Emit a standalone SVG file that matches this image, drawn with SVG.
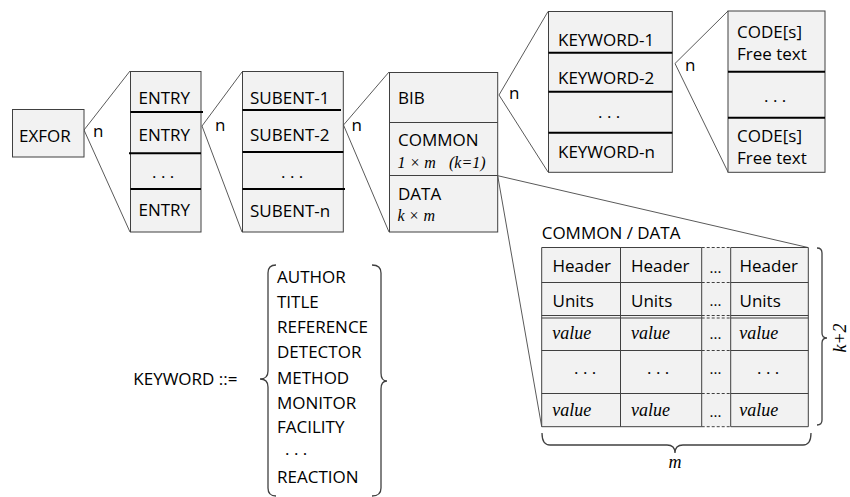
<svg xmlns="http://www.w3.org/2000/svg" width="850" height="497" viewBox="0 0 850 497">
<style>
.box{fill:#f2f2f2;stroke:#404040;stroke-width:1}
.dv{stroke:#000;stroke-width:2;fill:none}
.ln{stroke:#404040;stroke-width:1;fill:none}
.ds{stroke:#404040;stroke-width:1;fill:none;stroke-dasharray:3 2}
.conn{stroke:#5a5a5a;stroke-width:1;fill:none}
.br{stroke:#404040;stroke-width:1.3;fill:none}
text{font-family:"Open Sans","Liberation Sans",sans-serif;font-size:17px;fill:#000}
.it{font-family:"Liberation Serif",serif;font-style:italic;font-size:16px}
.iv{font-family:"Liberation Serif",serif;font-style:italic;font-size:18px}
.sm{font-size:15px}
</style>
<rect width="850" height="497" fill="#fff"/>
<g id="connectors">
<polyline class="conn" points="130,71 84,130 130,232"/>
<polyline class="conn" points="242,72 202,126 242,232"/>
<polyline class="conn" points="389,72 343.5,125 389,232"/>
<polyline class="conn" points="548,11.5 499,95 548,172"/>
<polyline class="conn" points="728,11 675,63.5 728,172"/>
<polyline class="conn" points="808,247.5 497.7,175.7 541.7,426.7"/>
<text x="93" y="136.5">n</text>
<text x="215" y="131">n</text>
<text x="351.5" y="130.5">n</text>
<text x="509" y="98.5">n</text>
<text x="685" y="70.5">n</text>
</g>
<g id="exfor">
<rect class="box" x="12.5" y="109.5" width="71.5" height="47.5"/>
<text x="19" y="142">EXFOR</text>
</g>
<g id="entries">
<rect class="box" x="130.5" y="71.5" width="70.5" height="160.5"/>
<line class="dv" x1="130.5" y1="112" x2="203" y2="112"/>
<line class="dv" x1="129" y1="153.3" x2="201" y2="153.3"/>
<line class="dv" x1="130.5" y1="189" x2="201" y2="189"/>
<text x="138.5" y="104">ENTRY</text>
<text x="138.5" y="141">ENTRY</text>
<text x="152" y="178">. . .</text>
<text x="138.5" y="216">ENTRY</text>
</g>
<g id="subents">
<rect class="box" x="242.5" y="71.5" width="100.8" height="160.5"/>
<line class="dv" x1="242.5" y1="110" x2="341" y2="110"/>
<line class="dv" x1="242.5" y1="152" x2="343.3" y2="152"/>
<line class="dv" x1="242.5" y1="189" x2="345" y2="189"/>
<text x="250" y="103.5">SUBENT-1</text>
<text x="250" y="141">SUBENT-2</text>
<text x="281" y="178">. . .</text>
<text x="250" y="216.5">SUBENT-n</text>
</g>
<g id="subentry">
<rect class="box" x="389.5" y="72.5" width="108.2" height="159.5"/>
<line class="ln" x1="389.5" y1="122.5" x2="497.7" y2="122.5"/>
<line class="ln" x1="389.5" y1="175.5" x2="497.7" y2="175.5"/>
<text x="398" y="103.5">BIB</text>
<text x="398" y="145.5">COMMON</text>
<text class="it" x="397.5" y="168">1 × m</text>
<text class="it" x="449" y="168">(k=1)</text>
<text x="398" y="199.5">DATA</text>
<text class="it" x="397.5" y="221">k × m</text>
</g>
<g id="keywords">
<rect class="box" x="548.5" y="11.5" width="123.8" height="160.8"/>
<line class="dv" x1="548.5" y1="52.7" x2="672.3" y2="52.7"/>
<line class="dv" x1="548.5" y1="91.7" x2="672.3" y2="91.7"/>
<line class="dv" x1="548.5" y1="132.7" x2="672.3" y2="132.7"/>
<text x="558" y="45.5">KEYWORD-1</text>
<text x="558" y="83.5">KEYWORD-2</text>
<text x="598" y="118">. . .</text>
<text x="558" y="157.5">KEYWORD-n</text>
</g>
<g id="codes">
<rect class="box" x="728" y="11" width="97" height="161.3"/>
<line class="dv" x1="728" y1="71.7" x2="825" y2="71.7"/>
<line class="dv" x1="728" y1="117.7" x2="825" y2="117.7"/>
<text x="737" y="37.5">CODE[s]</text>
<text x="737" y="59.5">Free text</text>
<text x="764" y="101.5">. . .</text>
<text x="737" y="142">CODE[s]</text>
<text x="737" y="164">Free text</text>
</g>
<g id="table">
<text x="541.7" y="239">COMMON / DATA</text>
<rect x="541.7" y="247.5" width="266.6" height="179.2" fill="#f2f2f2"/>
<g class="ln">
<line x1="541.7" y1="247.5" x2="701.7" y2="247.5"/>
<line x1="730.7" y1="247.5" x2="808.3" y2="247.5"/>
<line x1="541.7" y1="282.5" x2="701.7" y2="282.5"/>
<line x1="730.7" y1="282.5" x2="808.3" y2="282.5"/>
<line x1="541.7" y1="315.5" x2="701.7" y2="315.5"/>
<line x1="730.7" y1="315.5" x2="808.3" y2="315.5"/>
<line x1="541.7" y1="318" x2="701.7" y2="318"/>
<line x1="730.7" y1="318" x2="808.3" y2="318"/>
<line x1="541.7" y1="350.5" x2="701.7" y2="350.5"/>
<line x1="730.7" y1="350.5" x2="808.3" y2="350.5"/>
<line x1="541.7" y1="393.5" x2="701.7" y2="393.5"/>
<line x1="730.7" y1="393.5" x2="808.3" y2="393.5"/>
<line x1="541.7" y1="426.7" x2="701.7" y2="426.7"/>
<line x1="730.7" y1="426.7" x2="808.3" y2="426.7"/>
<line x1="541.7" y1="247.5" x2="541.7" y2="426.7"/>
<line x1="620.5" y1="247.5" x2="620.5" y2="426.7"/>
<line x1="701.7" y1="247.5" x2="701.7" y2="426.7"/>
<line x1="730.7" y1="247.5" x2="730.7" y2="426.7"/>
<line x1="808.3" y1="247.5" x2="808.3" y2="426.7"/>
</g>
<g class="ds">
<line x1="701.7" y1="247.5" x2="730.7" y2="247.5"/>
<line x1="701.7" y1="282.5" x2="730.7" y2="282.5"/>
<line x1="701.7" y1="315.5" x2="730.7" y2="315.5"/>
<line x1="701.7" y1="318" x2="730.7" y2="318"/>
<line x1="701.7" y1="350.5" x2="730.7" y2="350.5"/>
<line x1="701.7" y1="393.5" x2="730.7" y2="393.5"/>
<line x1="701.7" y1="426.7" x2="730.7" y2="426.7"/>
</g>
<text x="552.5" y="272">Header</text>
<text x="631" y="272">Header</text>
<text class="sm" x="709.5" y="273">...</text>
<text x="739.5" y="272">Header</text>
<text x="552.5" y="307">Units</text>
<text x="631" y="307">Units</text>
<text class="sm" x="709.5" y="306">...</text>
<text x="739.5" y="307">Units</text>
<text class="iv" x="552.3" y="339">value</text>
<text class="iv" x="631" y="339">value</text>
<text class="sm" x="709.5" y="339">...</text>
<text class="iv" x="739.3" y="339">value</text>
<text x="574" y="374">. . .</text>
<text x="647" y="374">. . .</text>
<text class="sm" x="709.5" y="374">...</text>
<text x="757" y="374">. . .</text>
<text class="iv" x="552.3" y="416">value</text>
<text class="iv" x="631" y="416">value</text>
<text class="sm" x="709.5" y="417">...</text>
<text class="iv" x="739.3" y="416">value</text>
<path class="br" d="M817,248 Q822,248 822,253 L822,333 Q822,338 827,338 Q822,338 822,343 L822,420 Q822,425 817,425"/>
<text class="iv" transform="translate(846,338) rotate(-90)" text-anchor="middle">k+2</text>
<path class="br" d="M542,433 Q542,445 550,445 L667,445 Q675,445 675,453 Q675,445 683,445 L803,445 Q811,445 811,433"/>
<text class="iv" x="675" y="468" text-anchor="middle">m</text>
</g>
<g id="keyword-def">
<text x="133.3" y="384.5">KEYWORD ::=</text>
<path class="br" d="M276,265 Q268,265 268,273 L268,371 Q268,379 260,379 Q268,379 268,387 L268,488 Q268,496 276,496"/>
<path class="br" d="M372,265 Q381,265 381,273 L381,373 Q381,381 387,381 Q381,381 381,389 L381,488 Q381,496 372,496"/>
<text x="277" y="283">AUTHOR</text>
<text x="277" y="308">TITLE</text>
<text x="277" y="333">REFERENCE</text>
<text x="277" y="358">DETECTOR</text>
<text x="277" y="384">METHOD</text>
<text x="277" y="408.5">MONITOR</text>
<text x="277" y="433">FACILITY</text>
<text x="285" y="455">. . .</text>
<text x="277" y="483">REACTION</text>
</g>
</svg>
